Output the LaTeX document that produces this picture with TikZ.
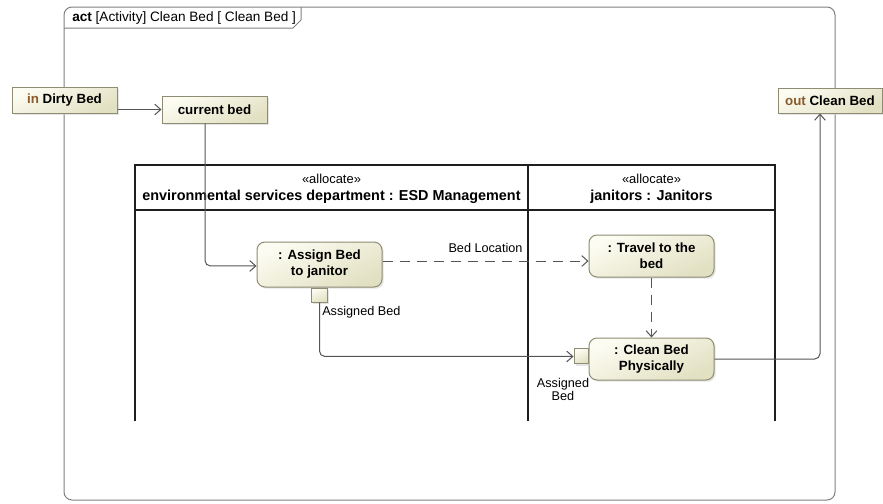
\documentclass[tikz,border=0pt]{standalone}
\usepackage{fontspec}
\setmainfont{Liberation Sans}
\usetikzlibrary{arrows.meta,shadows,calc}

\definecolor{fillLight}{HTML}{FCFCF2}
\definecolor{fillDark}{HTML}{E2E0C2}
\definecolor{boxLine}{HTML}{8E8C72}
\definecolor{inBrown}{HTML}{8A5A2A}
\definecolor{edgeGray}{HTML}{555555}
\definecolor{frameGray}{HTML}{808080}
\definecolor{laneBlack}{HTML}{1E1E1E}

\tikzset{
  boxshade/.style={draw=boxLine, line width=0.75pt,
    top color=fillLight, bottom color=fillDark, shading angle=25,
    drop shadow={shadow xshift=1.3pt, shadow yshift=-1.3pt, fill=black!20}},
  action/.style={boxshade, rounded corners=6pt, minimum width=93.75pt,
    align=center, inner sep=0pt, font=\bfseries\fontsize{10}{12}\selectfont},
  objnode/.style={boxshade, rectangle, inner sep=0pt, minimum height=19.5pt,
    font=\bfseries\fontsize{10}{12}\selectfont},
  pinsq/.style={boxshade, rectangle, inner sep=0pt},
  lbl/.style={inner sep=0pt, font=\fontsize{9.5}{10}\selectfont},
  stereo/.style={inner sep=0pt, font=\fontsize{9.7}{11}\selectfont},
  lanename/.style={inner sep=0pt, font=\bfseries\fontsize{10.8}{12}\selectfont},
  lane/.style={draw=laneBlack, line width=1.5pt},
  flow/.style={draw=edgeGray, line width=0.75pt, rounded corners=4pt,
    -{Straight Barb[length=4.5pt,width=8pt]}},
  objflow/.style={flow, dash pattern=on 7.5pt off 5.25pt}
}

\begin{document}
\begin{tikzpicture}[x=0.75pt, y=-0.75pt]
  \useasboundingbox (0,0) rectangle (883,504);

  % activity frame with its name tab
  \draw[frameGray, line width=0.75pt, rounded corners=6pt] (64,7) rectangle (835,500);
  \draw[frameGray, line width=0.75pt] (64,28) -- (293,28) -- (301,20) -- (301,7);
  \node[anchor=west, inner sep=0pt, font=\fontsize{10.2}{11}\selectfont] (tab) at (72,17.5)
    {\textbf{act} [Activity] Clean Bed [ Clean Bed ]};

  % swimlanes
  \draw[lane] (135,421) -- (135,165) -- (775,165) -- (775,421);
  \draw[lane] (135,210) -- (775,210);
  \draw[lane] (528,165) -- (528,421);
  \node[stereo] (h1s) at (331.5,179) {«allocate»};
  \node[lanename] (h1n) at (331.5,196.5) {environmental services department : ESD Management};
  \node[stereo] (h2s) at (651.5,179) {«allocate»};
  \node[lanename] (h2n) at (651.5,196.5) {janitors : Janitors};

  % parameter and object nodes
  \node[objnode, minimum width=78.75pt] (dirty) at (64.5,100)
    {\textcolor{inBrown}{in} Dirty Bed};
  \node[objnode, minimum width=78.75pt, minimum height=20.25pt] (current) at (214.5,109.5)
    {current bed};
  \node[objnode, minimum width=78pt, minimum height=18.75pt] (outbed) at (830,100.5)
    {\textcolor{inBrown}{out} Clean Bed};

  % actions
  \node[action, minimum height=33.75pt] (assign) at (319.5,264.5) {: Assign Bed\\to janitor};
  \node[action, minimum height=31.5pt] (travel) at (651.5,256) {: Travel to the\\bed};
  \node[action, minimum height=31.5pt] (clean) at (651.5,359) {: Clean Bed\\Physically};

  % pins
  \node[pinsq, minimum width=12pt, minimum height=10.5pt, anchor=north] (pinA) at (assign.south) {};
  \node[pinsq, minimum width=10.5pt, minimum height=11.25pt, anchor=east] (pinC) at ([yshift=1.9pt]clean.west) {};
  \node[lbl, anchor=west] (pinAlbl) at (322,312) {Assigned Bed};
  \node[lbl, align=center, font=\fontsize{9.5}{9.75}\selectfont] (pinClbl) at (563,389) {Assigned\\Bed};

  % flows
  \draw[flow] (dirty.east |- current.west) -- (current.west);
  \draw[flow] ([xshift=-7.1pt]current.south) |- ([yshift=-1.1pt]assign.west);
  \draw[objflow] ([yshift=2.6pt]assign.east) -- ([yshift=2.6pt]assign.east -| travel.west)
    node[lbl, midway, above=6pt] (bedloc) {Bed Location};
  \draw[objflow] (travel.south) -- (clean.north);
  \draw[flow] (pinA.south) |- (pinC.west);
  \draw[flow] (clean.east) -| ([xshift=-7.5pt]outbed.south);
\end{tikzpicture}
\end{document}
